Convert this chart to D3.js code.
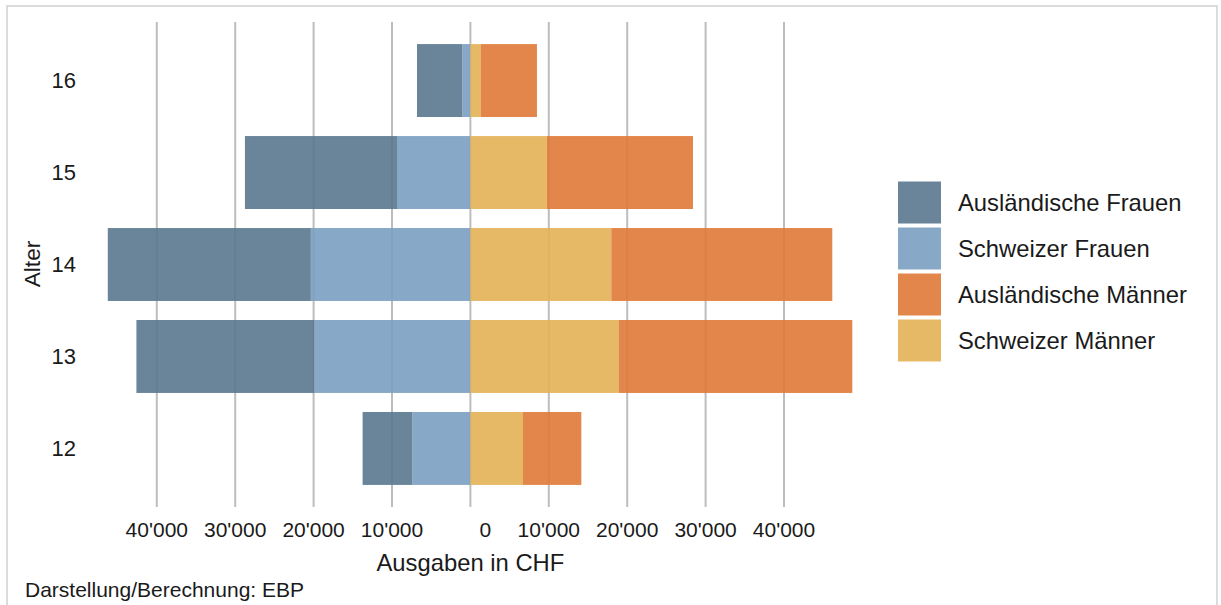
<!DOCTYPE html>
<html><head><meta charset="utf-8">
<script src="https://cdn.jsdelivr.net/npm/d3@7"></script>
<style>body{margin:0;background:#fff}svg{display:block;font-family:"Liberation Sans",Arial,sans-serif}</style>
</head><body>
<svg id="chart" width="1221" height="605"></svg>
<script>
const ages = ["16","15","14","13","12"];
const auslFrauen   = [5780, 19400, 25900, 22700, 6350];
const schweizFrauen = [1030, 9360, 20350, 19900, 7400];
const schweizMaenner = [1350, 9770, 17970, 18950, 6710];
const auslMaenner  = [7140, 18620, 28190, 29760, 7440];
const tickValues = [-40000,-30000,-20000,-10000,0,10000,20000,30000,40000];
const seriesNames = ["Ausländische Frauen","Schweizer Frauen","Ausländische Männer","Schweizer Männer"];
const seriesColors = ["#5a778e","#7a9fc0","#e07938","#e3b157"];

const svg = d3.select("#chart");
svg.append("rect").attr("x",7).attr("y",6).attr("width",1210).attr("height",640)
  .attr("fill","none").attr("stroke","#dcdcdc").attr("stroke-width",2);

const x = d3.scaleLinear().domain([-50000,50000]).range([78.4,862.4]);
const y = d3.scaleBand().domain(ages).range([22,507]).paddingInner(0.207).paddingOuter(0.24);

// gridlines
svg.append("g").selectAll("line").data(tickValues).join("line")
  .attr("x1",d=>x(d)).attr("x2",d=>x(d)).attr("y1",22).attr("y2",507)
  .attr("stroke","#bdbdbd").attr("stroke-width",2);

// bars
const segs = [];
ages.forEach((a,i)=>{
  segs.push({age:a,x0:-schweizFrauen[i],x1:0,c:1});
  segs.push({age:a,x0:-schweizFrauen[i]-auslFrauen[i],x1:-schweizFrauen[i],c:0});
  segs.push({age:a,x0:0,x1:schweizMaenner[i],c:3});
  segs.push({age:a,x0:schweizMaenner[i],x1:schweizMaenner[i]+auslMaenner[i],c:2});
});
svg.append("g").selectAll("rect").data(segs).join("rect")
  .attr("x",d=>x(d.x0)).attr("width",d=>x(d.x1)-x(d.x0))
  .attr("y",d=>y(d.age)).attr("height",y.bandwidth())
  .attr("fill",d=>seriesColors[d.c]).attr("fill-opacity",0.9);

// y labels
svg.append("g").selectAll("text").data(ages).join("text")
  .attr("x",76).attr("y",d=>y(d)+y.bandwidth()/2).attr("dy","0.36em")
  .attr("text-anchor","end").attr("font-size",22).attr("fill","#1a1a1a").text(d=>d);

// x tick labels
const fmt = v => d3.format(",")(Math.abs(v)).replace(/,/g,"'");
svg.append("g").selectAll("text").data(tickValues).join("text")
  .attr("x",d=>x(d)+(d===0?15:0)).attr("y",537)
  .attr("text-anchor","middle").attr("font-size",21).attr("fill","#1a1a1a").text(fmt);

// axis titles
svg.append("text").attr("x",x(0)).attr("y",570.5).attr("text-anchor","middle")
  .attr("font-size",23.8).attr("fill","#1a1a1a").text("Ausgaben in CHF");
svg.append("text").attr("transform","translate(40,264) rotate(-90)").attr("text-anchor","middle")
  .attr("font-size",22.7).attr("fill","#1a1a1a").text("Alter");

// caption
svg.append("text").attr("x",25).attr("y",597).attr("font-size",21).attr("fill","#1a1a1a")
  .text("Darstellung/Berechnung: EBP");

// legend
const lg = svg.append("g").selectAll("g").data(seriesNames).join("g")
  .attr("transform",(d,i)=>`translate(898,${181.5+i*46})`);
lg.append("rect").attr("width",43).attr("height",42).attr("fill",(d,i)=>seriesColors[i]).attr("fill-opacity",0.9);
lg.append("text").attr("x",60).attr("y",21).attr("dy","0.36em").attr("font-size",23.8)
  .attr("fill","#1a1a1a").text(d=>d);
</script>
</body></html>
